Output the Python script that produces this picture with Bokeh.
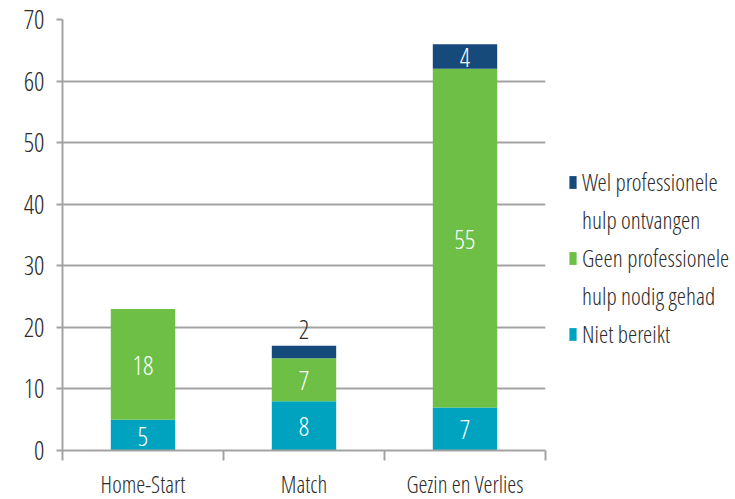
from bokeh.plotting import figure
from bokeh.models import Range1d, FixedTicker, Legend, LegendItem, ColumnDataSource
from bokeh.core.properties import value
from bokeh.embed import file_html
from bokeh.resources import INLINE

categories = ["Home-Start", "Match", "Gezin en Verlies"]
niet_bereikt = [5, 8, 7]
geen_hulp_nodig = [18, 7, 55]
wel_hulp = [0, 2, 4]
series_values = [niet_bereikt, geen_hulp_nodig, wel_hulp]
series_labels = [["Niet bereikt"], ["Geen professionele", "hulp nodig gehad"], ["Wel professionele", "hulp ontvangen"]]
colors = ["#00a3bf", "#6dbf45", "#164a7a"]
y_ticks = [0, 10, 20, 30, 40, 50, 60, 70]

FONT = "Open Sans Condensed Light"
FS = "26px"
FS_CAT = "23px"
FS_LEG = "23.5px"
GRID = "#a3a3a3"
TXT = "#2b2b2b"

n = len(categories)
p = figure(frame_width=483, frame_height=431,
           x_range=Range1d(0, n), y_range=Range1d(0, 70),
           output_backend="svg", toolbar_location=None,
           min_border_left=62, min_border_top=19, min_border_bottom=45, min_border_right=190)
p.outline_line_color = None
p.background_fill_color = "white"

xs = [i + 0.5 for i in range(n)]
bottoms = [0] * n
renderers = []
lab_x, lab_y, lab_t, lab_c, lab_base, lab_off = [], [], [], [], [], []
for vals, col in zip(series_values, colors):
    tops = [b + v for b, v in zip(bottoms, vals)]
    src = ColumnDataSource(dict(x=xs, bottom=bottoms, top=tops))
    r = p.vbar(x="x", bottom="bottom", top="top", width=0.4, source=src,
               fill_color=col, line_color=None)
    renderers.append(r)
    for x, b, t, v in zip(xs, bottoms, tops, vals):
        if v <= 0:
            continue
        if v < 3:
            lab_x.append(x); lab_y.append(t); lab_t.append(str(v)); lab_c.append(TXT)
            lab_base.append("bottom"); lab_off.append(-7)
        else:
            lab_x.append(x); lab_y.append((b + t) / 2); lab_t.append(str(v)); lab_c.append("white")
            lab_base.append("middle"); lab_off.append(1)
    bottoms = tops

lsrc = ColumnDataSource(dict(x=lab_x, y=lab_y, text=lab_t, color=lab_c, base=lab_base, off=lab_off))
p.text(x="x", y="y", text="text", text_color="color", text_baseline="base", y_offset="off",
       text_align="center", text_font=value(FONT), text_font_size=FS, source=lsrc)

# grid
p.xgrid.visible = False
p.ygrid.ticker = FixedTicker(ticks=y_ticks)
p.ygrid.grid_line_color = GRID
p.ygrid.grid_line_width = 2

# y axis
ya = p.yaxis[0]
ya.ticker = FixedTicker(ticks=y_ticks)
ya.axis_line_color = GRID
ya.axis_line_width = 2
ya.major_tick_line_color = GRID
ya.major_tick_line_width = 2
ya.major_tick_out = 6
ya.major_tick_in = 0
ya.minor_tick_line_color = None
ya.major_label_text_font = FONT
ya.major_label_text_font_size = FS
ya.major_label_text_color = TXT
ya.major_label_standoff = 12

# x axis
xa = p.xaxis[0]
xa.ticker = FixedTicker(ticks=xs, minor_ticks=list(range(n + 1)))
xa.major_label_overrides = {x: c for x, c in zip(xs, categories)}
xa.axis_line_color = GRID
xa.axis_line_width = 2
xa.major_tick_line_color = None
xa.major_tick_out = 0
xa.major_tick_in = 0
xa.minor_tick_line_color = GRID
xa.minor_tick_line_width = 2
xa.minor_tick_out = 10
xa.minor_tick_in = 0
xa.major_label_text_font = FONT
xa.major_label_text_font_size = FS_CAT
xa.major_label_text_color = TXT
xa.major_label_standoff = 7

# legend: one row per text line; continuation rows use an empty, invisible renderer
blank = p.scatter(x=[], y=[], size=0, alpha=0)
items = []
for i in (2, 1, 0):
    lines = series_labels[i]
    items.append(LegendItem(label=lines[0], renderers=[renderers[i]]))
    for extra in lines[1:]:
        items.append(LegendItem(label=extra, renderers=[blank]))
legend = Legend(items=items, location=(23, 100), orientation="vertical",
                label_text_font=FONT, label_text_font_size=FS_LEG, label_text_color=TXT,
                glyph_width=9, glyph_height=16, label_standoff=5, spacing=6,
                label_height=20,
                padding=0, margin=0, border_line_color=None, background_fill_alpha=0)
p.add_layout(legend, "right")

open("out.html", "w").write(file_html(p, INLINE))
